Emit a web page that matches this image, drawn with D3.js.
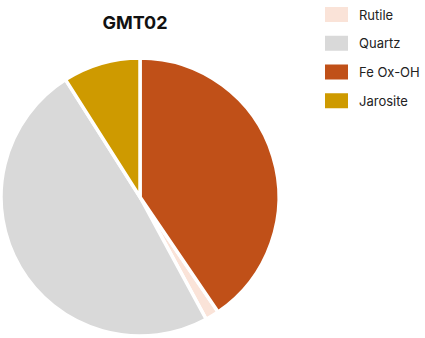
<!DOCTYPE html>
<html><head><meta charset="utf-8">
<script src="https://cdn.jsdelivr.net/npm/d3@7"></script>
<style>body{margin:0;background:#fff}svg{display:block}</style>
</head><body><div id="chart"></div>
<script>
const categories = ["Rutile", "Quartz", "Fe Ox-OH", "Jarosite"];
const values = [1.6, 48.9, 40.5, 9.0];
const colors = ["#FAE3D8", "#D9D9D9", "#C05018", "#CE9A00"];
const drawOrder = ["Fe Ox-OH", "Rutile", "Quartz", "Jarosite"];
const title = "GMT02";

const W = 425, H = 338;
const svg = d3.select("#chart").append("svg").attr("width", W).attr("height", H);

svg.append("text").attr("x", 135).attr("y", 28.5).attr("text-anchor", "middle")
  .attr("font-family", "Inter, 'Open Sans', sans-serif").attr("font-weight", 700)
  .attr("font-size", 18).attr("fill", "#111").text(title);

const data = categories.map((c, i) => ({cat: c, value: values[i], color: colors[i]}));
const pie = d3.pie().value(d => d.value)
  .sort((a, b) => drawOrder.indexOf(a.cat) - drawOrder.indexOf(b.cat));
const arc = d3.arc().innerRadius(0).outerRadius(139);

const g = svg.append("g").attr("transform", "translate(140,197)");
g.selectAll("path").data(pie(data)).join("path")
  .attr("d", arc).attr("fill", d => d.data.color)
  .attr("stroke", "#fff").attr("stroke-width", 3.5).attr("stroke-linejoin", "miter");

const y = d3.scaleBand().domain(categories).range([0, 115]);
const lg = svg.append("g").attr("transform", "translate(325,0)");
const items = lg.selectAll("g").data(data).join("g")
  .attr("transform", d => `translate(0,${y(d.cat)})`);
items.append("rect").attr("x", 0).attr("y", 7).attr("width", 23).attr("height", 15)
  .attr("fill", d => d.color);
items.append("text").attr("x", 34).attr("y", 19.5)
  .attr("font-family", "Inter, 'Open Sans', sans-serif").attr("font-size", 13)
  .attr("fill", "#222").text(d => d.cat);
</script></body></html>
